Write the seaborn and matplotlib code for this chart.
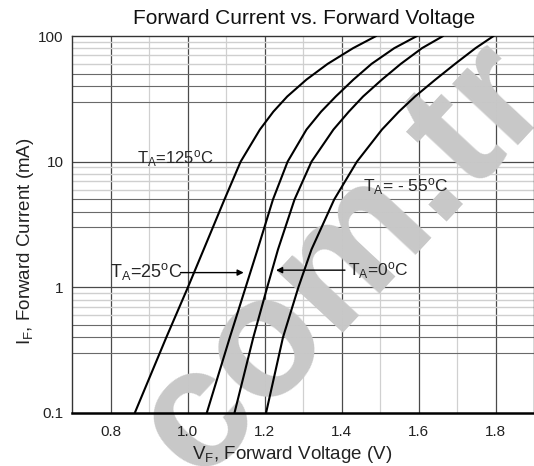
import matplotlib
matplotlib.use("Agg")
from matplotlib import pyplot as plt
import pandas as pd
import seaborn as sns

# values (I_F in mA, V_F in V)
current_ma = [0.1, 0.4, 1, 2, 5, 10, 18, 25, 33, 45, 60, 80, 100]
vf_125 = [0.863, 0.945, 1.001, 1.042, 1.096, 1.138, 1.188, 1.223, 1.259, 1.309, 1.364, 1.430, 1.490]
vf_25 = [1.050, 1.110, 1.151, 1.182, 1.222, 1.260, 1.309, 1.347, 1.385, 1.431, 1.478, 1.537, 1.596]
vf_0 = [1.122, 1.171, 1.207, 1.235, 1.278, 1.322, 1.379, 1.419, 1.456, 1.505, 1.554, 1.609, 1.664]
vf_m55 = [1.204, 1.248, 1.288, 1.322, 1.381, 1.440, 1.505, 1.549, 1.591, 1.644, 1.695, 1.748, 1.795]
temps = ["125", "25", "0", "-55"]

y_ticks = [0.1, 1, 10, 100]
y_ticklabels = ["0.1", "1", "10", "100"]
x_ticks = [0.8, 1.0, 1.2, 1.4, 1.6, 1.8]
x_ticklabels = ["0.8", "1.0", "1.2", "1.4", "1.6", "1.8"]

df = pd.concat([
    pd.DataFrame({"vf": v, "if": current_ma, "temp": t})
    for t, v in zip(temps, [vf_125, vf_25, vf_0, vf_m55])
])

sns.set_style("white")
plt.rcParams["font.family"] = ["Liberation Sans", "DejaVu Sans"]
plt.rcParams["mathtext.fontset"] = "custom"
plt.rcParams["mathtext.rm"] = "Liberation Sans"
plt.rcParams["mathtext.it"] = "Liberation Sans:italic"

fig = plt.figure(figsize=(5.34, 4.66), dpi=100)
ax = fig.add_axes([72 / 534, 1 - 413 / 466, 462 / 534, 377 / 466])

# grid like the printed datasheet
for v in x_ticks:
    ax.axvline(v, color="#4a4a4a", lw=0.9, zorder=1)
for v in [0.9, 1.1, 1.3, 1.5, 1.7]:
    ax.axvline(v, color="#d0d0d0", lw=0.9, zorder=1)
for dec in [0.1, 1, 10]:
    for m in [3, 4, 5]:
        ax.axhline(dec * m, color="#6a6a6a", lw=0.8, zorder=1)
    for m in [6, 7, 8, 9]:
        ax.axhline(dec * m, color="#cfcfcf", lw=1.0, zorder=1)
for v in [1, 10]:
    ax.axhline(v, color="#4a4a4a", lw=0.9, zorder=1)

# watermark
ax.text(343 / 534, 1 - 260 / 466, "com.tr", transform=fig.transFigure,
        fontsize=123, fontweight="bold", color="#c8c8c8", rotation=47,
        ha="center", va="center", clip_on=False, zorder=1.5)

sns.lineplot(data=df, x="vf", y="if", hue="temp", palette=["black"] * 4,
             sort=False, estimator=None, legend=False, lw=1.5, ax=ax, zorder=3)

ax.set_yscale("log")
ax.set_xlim(0.7, 1.9)
ax.set_ylim(0.1, 100)
ax.set_xticks(x_ticks)
ax.set_xticklabels(x_ticklabels)
ax.set_yticks(y_ticks)
ax.set_yticklabels(y_ticklabels)
ax.yaxis.set_minor_locator(matplotlib.ticker.NullLocator())
ax.tick_params(length=0, labelsize=11, colors="#222222")
ax.tick_params(axis="x", pad=9)
ax.tick_params(axis="y", pad=6)
ax.xaxis.set_zorder(2.5)
ax.yaxis.set_zorder(2.5)

for s in ["left", "top", "right"]:
    ax.spines[s].set_color("#333333")
    ax.spines[s].set_linewidth(1.0)
ax.spines["bottom"].set_color("black")
ax.spines["bottom"].set_linewidth(1.8)

ax.set_xlabel(r"V$_{\mathregular{F}}$, Forward Voltage (V)", fontsize=13.5, color="#222222")
ax.set_ylabel(r"I$_{\mathregular{F}}$, Forward Current (mA)", fontsize=13.5, color="#222222")
ax.xaxis.set_label_coords(0.476, -0.083)
ax.yaxis.set_label_coords(-0.078, 0.456)
fig.text(304 / 534, 1 - 18 / 466, "Forward Current vs. Forward Voltage",
         fontsize=15, ha="center", va="center", color="#111111")

# curve labels
ax.text(0.868, 10.5, r"T$_{\mathregular{A}}$=125$^{\mathregular{o}}$C", fontsize=12,
        va="center", ha="left", zorder=4)
ax.text(1.457, 6.3, r"T$_{\mathregular{A}}$= - 55$^{\mathregular{o}}$C", fontsize=12.5,
        va="center", ha="left", zorder=4)
ax.text(0.798, 1.33, r"T$_{\mathregular{A}}$=25$^{\mathregular{o}}$C", fontsize=13,
        va="center", ha="left", zorder=4)
ax.text(1.417, 1.37, r"T$_{\mathregular{A}}$=0$^{\mathregular{o}}$C", fontsize=12.5,
        va="center", ha="left", zorder=4)
arrow = dict(arrowstyle="-|>", color="black", lw=1.0, mutation_scale=9,
             shrinkA=0, shrinkB=0)
ax.annotate("", xy=(1.146, 1.31), xytext=(0.982, 1.31), arrowprops=arrow, zorder=4)
ax.annotate("", xy=(1.230, 1.37), xytext=(1.409, 1.37), arrowprops=arrow, zorder=4)

plt.savefig("out.png", dpi=100)
